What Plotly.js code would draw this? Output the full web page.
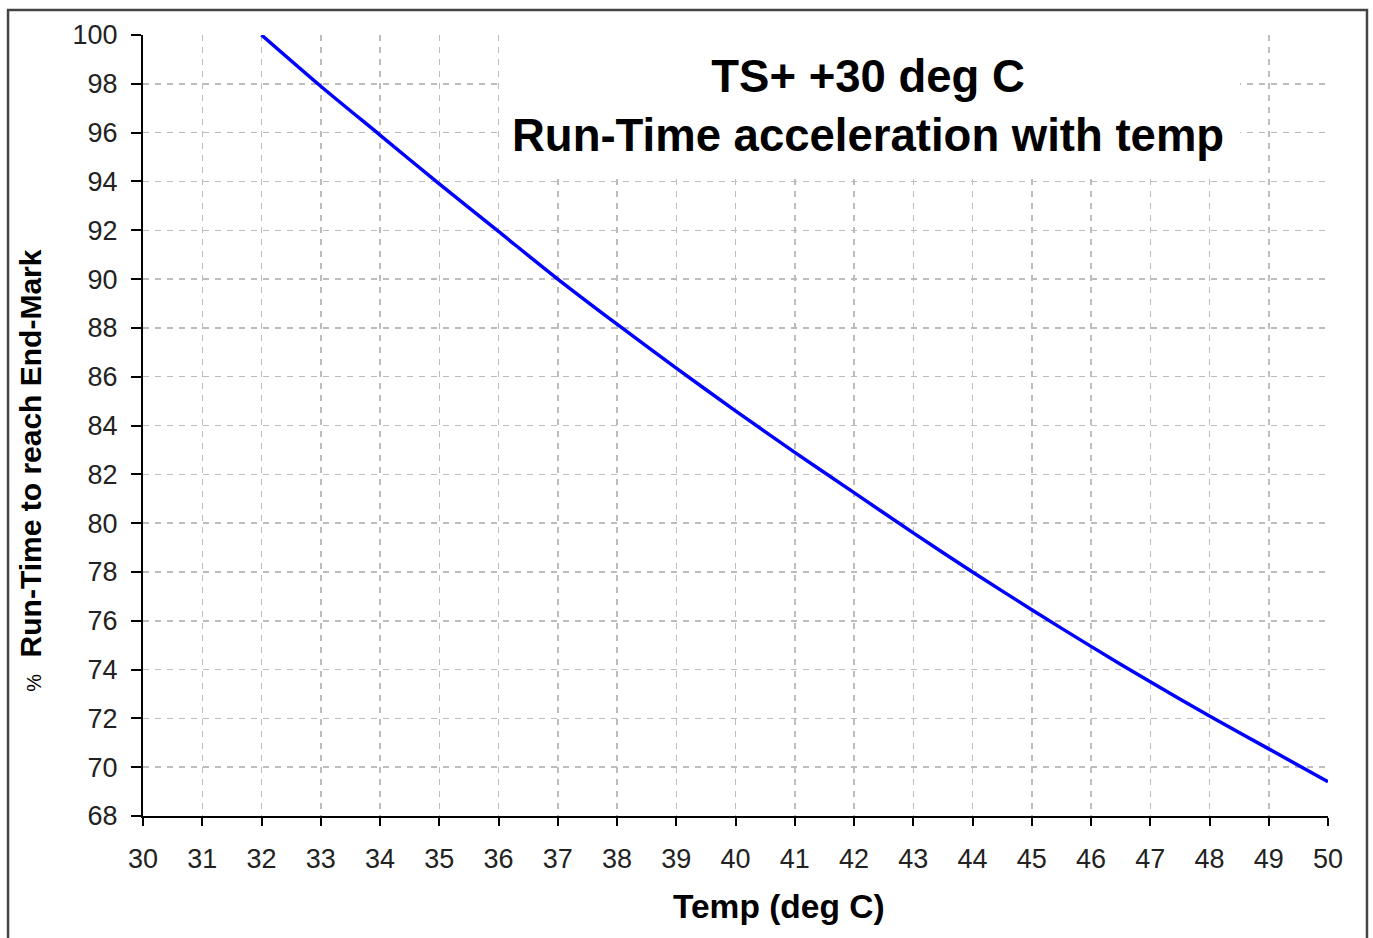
<!DOCTYPE html>
<html>
<head>
<meta charset="utf-8">
<script src="https://cdn.plot.ly/plotly-3.0.1.min.js"></script>
<style>
  html, body { margin: 0; padding: 0; background: #ffffff; }
  #chart { width: 1373px; height: 938px; }
</style>
</head>
<body>
<div id="chart"></div>
<script>
// Data
const temps = [32, 33, 34, 35, 36, 37, 38, 39, 40, 41, 42, 43, 44, 45, 46, 47, 48, 49, 50];
const runTimePct = [100, 97.9, 95.9, 93.9, 91.95, 90.0, 88.15, 86.35, 84.6, 82.9, 81.25, 79.6, 78.0, 76.45, 74.95, 73.5, 72.1, 70.75, 69.4];

const chartTitleLines = ["TS+ +30 deg C", "Run-Time acceleration with temp"];
const xTitle = "Temp (deg C)";
const yTitleMain = "Run-Time to reach End-Mark";
const yTitlePrefix = "%";

const xRange = [30, 50];
const yRange = [68, 100];

const FONT = "Liberation Sans, Arial, Helvetica, sans-serif";

const trace = {
  x: temps,
  y: runTimePct,
  type: "scatter",
  mode: "lines",
  line: { color: "#0000ff", width: 3.5, shape: "spline", smoothing: 0.8 },
  hoverinfo: "skip"
};

const axisCommon = {
  showgrid: true,
  gridcolor: "#bcbcbc",
  gridwidth: 1.5,
  griddash: "6px,6px",
  showline: true,
  linecolor: "#000000",
  linewidth: 2,
  ticks: "outside",
  tickcolor: "#000000",
  tickwidth: 2,
  zeroline: false,
  tickfont: { family: FONT, size: 27, color: "#222222" },
  fixedrange: true
};

const layout = {
  width: 1373,
  height: 938,
  margin: { l: 143, r: 45, t: 35, b: 122 },
  paper_bgcolor: "#ffffff",
  plot_bgcolor: "#ffffff",
  showlegend: false,
  xaxis: Object.assign({}, axisCommon, {
    range: xRange,
    tick0: 30,
    dtick: 1,
    ticklen: 8,
    ticklabelstandoff: 10
  }),
  yaxis: Object.assign({}, axisCommon, {
    range: yRange,
    tick0: 68,
    dtick: 2,
    ticklen: 10,
    ticklabelstandoff: 8
  }),
  shapes: [
    // white box behind the in-plot title (hides gridlines)
    {
      type: "rect", xref: "paper", yref: "paper",
      x0: 0.3025, x1: 0.9257, y0: 0.818, y1: 1.01,
      fillcolor: "#ffffff", line: { width: 0 }, layer: "above"
    },
    // outer chart border
    {
      type: "rect", xref: "paper", yref: "paper",
      x0: -0.1139, x1: 1.0329, y0: -0.2, y1: 1.032,
      fillcolor: "rgba(0,0,0,0)", line: { color: "#444444", width: 2.5 }, layer: "above"
    }
  ],
  annotations: [
    {
      text: chartTitleLines.join("<br>"),
      xref: "paper", yref: "paper",
      x: 0.6118, y: 0.909,
      xanchor: "center", yanchor: "middle",
      showarrow: false,
      font: { family: FONT, size: 45.5, color: "#000000", weight: "bold" }
    },
    {
      text: "<b>" + xTitle + "</b>",
      xref: "paper", yref: "paper",
      x: 0.5367, y: -0.1165,
      xanchor: "center", yanchor: "middle",
      showarrow: false,
      font: { family: FONT, size: 33.5, color: "#000000" }
    },
    {
      text: "<span style='font-size:20px'>" + yTitlePrefix + "</span>  <b>" + yTitleMain + "</b>",
      xref: "paper", yref: "paper",
      x: -0.0955, y: 0.443,
      xanchor: "center", yanchor: "middle",
      textangle: -90,
      showarrow: false,
      font: { family: FONT, size: 30, color: "#000000" }
    }
  ]
};

Plotly.newPlot("chart", [trace], layout, { staticPlot: true, displayModeBar: false });
</script>
</body>
</html>
